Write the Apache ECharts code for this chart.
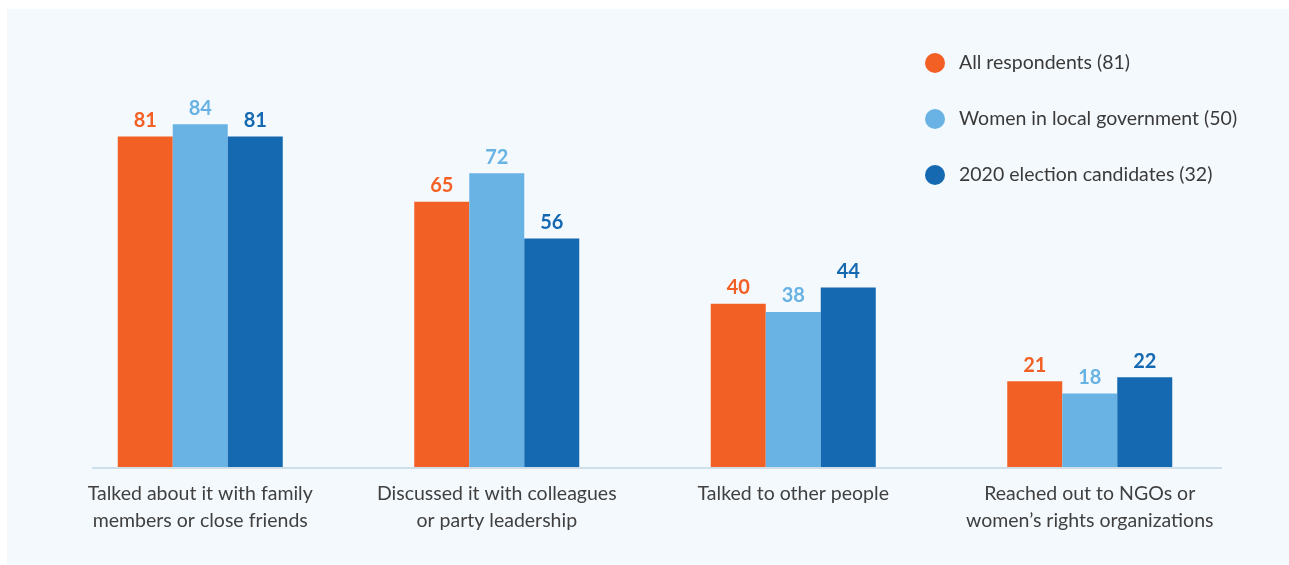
<!DOCTYPE html>
<html>
<head>
<meta charset="utf-8">
<script src="https://cdn.jsdelivr.net/npm/echarts@6/dist/echarts.min.js"></script>
<style>
  html, body { margin: 0; padding: 0; background: #ffffff; }
  #wrap { position: relative; width: 1289px; height: 565px; overflow: hidden; }
  #panel { position: absolute; left: 7px; top: 9px; right: 0; bottom: 0; background: #f4f9fd; }
  #chart { position: absolute; left: 0; top: 0; width: 1289px; height: 565px; }
</style>
</head>
<body>
<div id="wrap">
  <div id="panel"></div>
  <div id="chart"></div>
</div>
<script>
// Ways respondents dealt with the experience (% of each group)
const categories = [
  'Talked about it with family\nmembers or close friends',
  'Discussed it with colleagues\nor party leadership',
  'Talked to other people',
  'Reached out to NGOs or\nwomen\u2019s rights organizations'
];
const seriesNames = [
  'All respondents (81)',
  'Women in local government (50)',
  '2020 election candidates (32)'
];
const allRespondents = [81, 65, 40, 21];
const womenLocalGov = [84, 72, 38, 18];
const electionCandidates = [81, 56, 44, 22];

const colors = ['#f36025', '#69b3e4', '#1469b0'];
const font = 'Lato, "Open Sans", sans-serif';

const gridBottom = 98;
const axisY = 565 - gridBottom + 1;

function barSeries(name, data, color) {
  return {
    name: name,
    type: 'bar',
    data: data,
    barWidth: 55,
    barGap: '0%',
    itemStyle: { color: color },
    label: {
      show: true,
      position: 'top',
      distance: 6,
      color: color,
      fontFamily: font,
      fontWeight: 'bold',
      fontSize: 20
    }
  };
}

const chart = echarts.init(document.getElementById('chart'), null, { renderer: 'canvas' });
chart.setOption({
  backgroundColor: 'transparent',
  animation: false,
  color: colors,
  grid: { left: 52, right: 51, top: 59, bottom: gridBottom, containLabel: false },
  legend: {
    orient: 'vertical',
    left: 920,
    top: 48,
    itemWidth: 20,
    itemHeight: 20,
    itemGap: 36,
    icon: 'circle',
    textStyle: { color: '#3a3a3a', fontFamily: font, fontSize: 19.5, padding: [0, 0, 0, 9] },
    data: seriesNames
  },
  xAxis: {
    type: 'category',
    data: categories,
    axisLine: { show: false },
    axisTick: { show: false },
    axisLabel: {
      color: '#404040',
      fontFamily: font,
      fontSize: 19.5,
      lineHeight: 27,
      margin: 13,
      interval: 0
    }
  },
  yAxis: {
    type: 'value',
    min: 0,
    max: 100,
    show: false,
    splitLine: { show: false }
  },
  graphic: [{
    type: 'line',
    z: 10,
    shape: { x1: 92, y1: axisY, x2: 1222, y2: axisY },
    style: { stroke: '#cfdfe9', lineWidth: 2 }
  }],
  series: [
    barSeries(seriesNames[0], allRespondents, colors[0]),
    barSeries(seriesNames[1], womenLocalGov, colors[1]),
    barSeries(seriesNames[2], electionCandidates, colors[2])
  ]
});
</script>
</body>
</html>
